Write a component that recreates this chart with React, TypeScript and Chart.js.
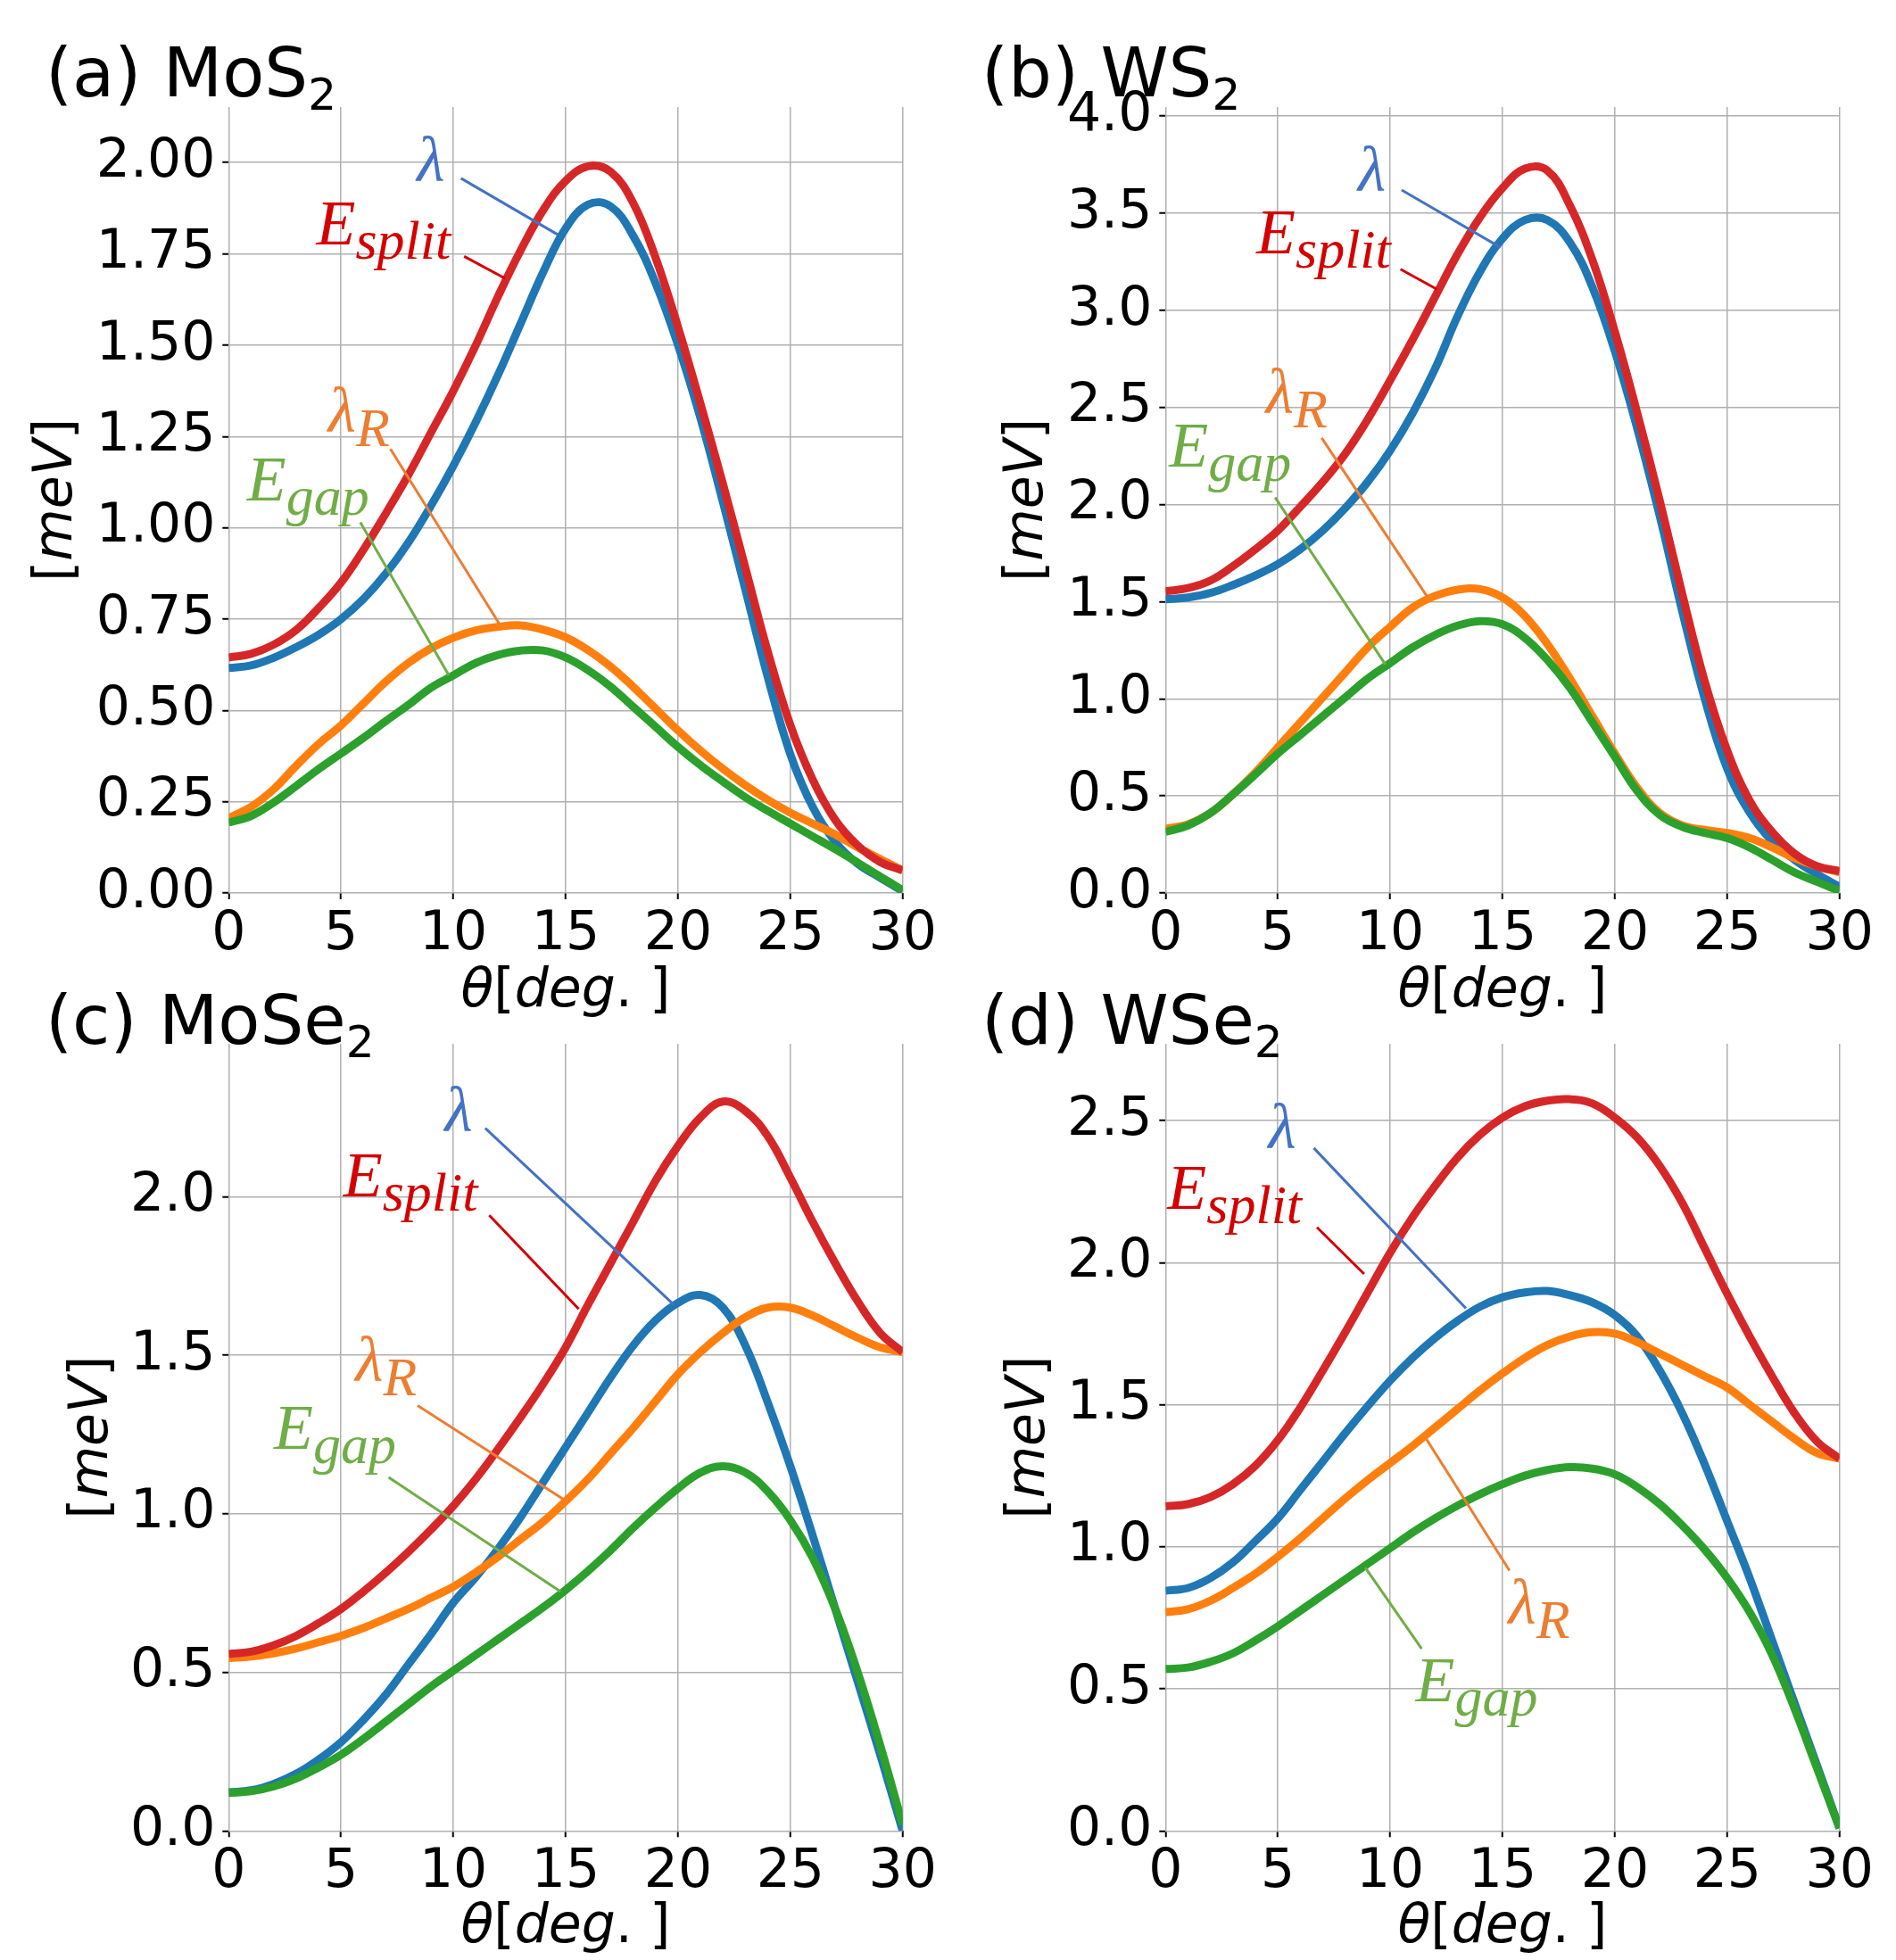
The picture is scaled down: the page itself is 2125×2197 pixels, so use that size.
import React, { useEffect, useRef } from "react";
import { Chart, registerables } from "chart.js";
Chart.register(...registerables);

const W = 2125;
const H = 2197;

// twist angle (deg)
const THETA = [0, 1, 2, 3, 4, 5, 6, 7, 8, 9, 10, 11, 12, 13, 14, 15, 16, 17, 18, 19, 20, 21, 22, 23, 24, 25, 26, 27, 28, 29, 30];
const X_TICKS = [0, 5, 10, 15, 20, 25, 30];

// (a) MoS2
const MOS2_ESPLIT = [0.645, 0.655, 0.68, 0.72, 0.78, 0.85, 0.94, 1.04, 1.145, 1.26, 1.375, 1.5, 1.635, 1.76, 1.87, 1.95, 1.99, 1.975, 1.89, 1.74, 1.55, 1.34, 1.12, 0.89, 0.66, 0.46, 0.31, 0.2, 0.13, 0.085, 0.062];
const MOS2_LAMBDA = [0.616, 0.623, 0.644, 0.673, 0.707, 0.75, 0.805, 0.875, 0.96, 1.06, 1.17, 1.29, 1.42, 1.56, 1.7, 1.82, 1.885, 1.88, 1.8, 1.67, 1.5, 1.3, 1.07, 0.83, 0.59, 0.38, 0.235, 0.14, 0.08, 0.042, 0.005];
const MOS2_LAMBDA_R = [0.205, 0.236, 0.284, 0.348, 0.408, 0.459, 0.519, 0.579, 0.63, 0.67, 0.699, 0.719, 0.729, 0.733, 0.721, 0.7, 0.665, 0.62, 0.565, 0.505, 0.445, 0.39, 0.34, 0.295, 0.255, 0.22, 0.19, 0.16, 0.125, 0.093, 0.062];
const MOS2_EGAP = [0.193, 0.211, 0.248, 0.293, 0.339, 0.382, 0.425, 0.471, 0.515, 0.562, 0.596, 0.63, 0.652, 0.664, 0.664, 0.645, 0.61, 0.565, 0.51, 0.455, 0.4, 0.35, 0.305, 0.262, 0.225, 0.19, 0.155, 0.12, 0.083, 0.045, 0.008];
const MOS2_Y_TICKS = [0, 0.25, 0.5, 0.75, 1.0, 1.25, 1.5, 1.75, 2.0];

// (b) WS2
const WS2_ESPLIT = [1.554, 1.57, 1.609, 1.683, 1.77, 1.866, 1.989, 2.117, 2.262, 2.439, 2.64, 2.85, 3.07, 3.29, 3.48, 3.63, 3.73, 3.72, 3.54, 3.26, 2.89, 2.47, 2.02, 1.54, 1.09, 0.734, 0.476, 0.315, 0.203, 0.138, 0.113];
const WS2_LAMBDA = [1.512, 1.522, 1.545, 1.586, 1.635, 1.693, 1.77, 1.866, 1.982, 2.117, 2.278, 2.471, 2.7, 2.97, 3.2, 3.37, 3.465, 3.465, 3.35, 3.12, 2.79, 2.39, 1.94, 1.45, 1.0, 0.64, 0.415, 0.267, 0.171, 0.097, 0.032];
const WS2_LAMBDA_R = [0.331, 0.354, 0.412, 0.508, 0.621, 0.75, 0.879, 1.007, 1.136, 1.265, 1.371, 1.47, 1.53, 1.562, 1.565, 1.522, 1.426, 1.281, 1.104, 0.911, 0.718, 0.541, 0.412, 0.348, 0.325, 0.309, 0.283, 0.235, 0.18, 0.138, 0.106];
const WS2_EGAP = [0.315, 0.348, 0.412, 0.508, 0.611, 0.718, 0.814, 0.911, 1.007, 1.104, 1.184, 1.265, 1.329, 1.377, 1.4, 1.384, 1.313, 1.2, 1.056, 0.879, 0.702, 0.525, 0.402, 0.341, 0.309, 0.283, 0.235, 0.171, 0.106, 0.058, 0.01];
const WS2_Y_TICKS = [0, 0.5, 1.0, 1.5, 2.0, 2.5, 3.0, 3.5, 4.0];

// (c) MoSe2
const MOSE2_ESPLIT = [0.558, 0.565, 0.585, 0.615, 0.655, 0.7, 0.755, 0.815, 0.88, 0.95, 1.025, 1.11, 1.205, 1.305, 1.41, 1.525, 1.66, 1.79, 1.92, 2.05, 2.16, 2.25, 2.3, 2.27, 2.19, 2.06, 1.92, 1.79, 1.67, 1.57, 1.51];
const MOSE2_LAMBDA = [0.122, 0.128, 0.148, 0.18, 0.225, 0.28, 0.35, 0.43, 0.525, 0.62, 0.72, 0.8, 0.89, 0.99, 1.1, 1.21, 1.32, 1.43, 1.53, 1.61, 1.665, 1.69, 1.65, 1.53, 1.35, 1.15, 0.93, 0.7, 0.47, 0.24, 0.0];
const MOSE2_LAMBDA_R = [0.545, 0.55, 0.56, 0.575, 0.595, 0.615, 0.64, 0.67, 0.7, 0.735, 0.77, 0.815, 0.865, 0.92, 0.975, 1.04, 1.11, 1.19, 1.27, 1.355, 1.44, 1.51, 1.57, 1.62, 1.65, 1.65, 1.625, 1.59, 1.555, 1.525, 1.51];
const MOSE2_EGAP = [0.12, 0.125, 0.14, 0.165, 0.2, 0.24, 0.29, 0.345, 0.4, 0.455, 0.505, 0.555, 0.605, 0.655, 0.705, 0.76, 0.82, 0.885, 0.955, 1.02, 1.08, 1.13, 1.15, 1.13, 1.07, 0.98, 0.86, 0.7, 0.5, 0.27, 0.02];
const MOSE2_Y_TICKS = [0, 0.5, 1.0, 1.5, 2.0];

// (d) WSe2
const WSE2_ESPLIT = [1.142, 1.15, 1.175, 1.22, 1.285, 1.375, 1.49, 1.62, 1.755, 1.895, 2.035, 2.16, 2.27, 2.37, 2.45, 2.51, 2.55, 2.57, 2.575, 2.56, 2.51, 2.44, 2.34, 2.21, 2.05, 1.89, 1.74, 1.6, 1.47, 1.37, 1.31];
const WSE2_LAMBDA = [0.845, 0.855, 0.89, 0.945, 1.02, 1.1, 1.2, 1.3, 1.4, 1.495, 1.585, 1.665, 1.735, 1.795, 1.845, 1.878, 1.895, 1.9, 1.885, 1.86, 1.815, 1.74, 1.62, 1.47, 1.29, 1.09, 0.89, 0.67, 0.45, 0.23, 0.01];
const WSE2_LAMBDA_R = [0.77, 0.78, 0.81, 0.855, 0.905, 0.965, 1.03, 1.1, 1.17, 1.235, 1.295, 1.355, 1.42, 1.485, 1.55, 1.61, 1.665, 1.71, 1.74, 1.755, 1.75, 1.72, 1.68, 1.64, 1.6, 1.56, 1.5, 1.44, 1.38, 1.33, 1.31];
const WSE2_EGAP = [0.57, 0.575, 0.595, 0.625, 0.67, 0.72, 0.775, 0.83, 0.885, 0.94, 0.995, 1.05, 1.1, 1.145, 1.185, 1.22, 1.25, 1.27, 1.28, 1.275, 1.255, 1.21, 1.15, 1.075, 0.99, 0.89, 0.77, 0.62, 0.43, 0.22, 0.01];
const WSE2_Y_TICKS = [0, 0.5, 1.0, 1.5, 2.0, 2.5];

const C_BLUE = "#1f77b4";
const C_ORANGE = "#ff7f0e";
const C_GREEN = "#2ca02c";
const C_RED = "#d62728";
const A_BLUE = "#4472c4";
const A_ORANGE = "#ed7d31";
const A_GREEN = "#70ad47";
const A_RED = "#d40000";

type Seg = { t: string; font: string; dy?: number };
type Ann = { kind: "lambda" | "esplit" | "lambdaR" | "egap"; tx: number; ty: number; x1: number; y1: number; x2: number; y2: number };

type Panel = {
  name: string;
  sub: string;
  esplit: number[];
  lambda: number[];
  lambdaR: number[];
  egap: number[];
  yMax: number;
  yTicks: number[];
  dec: number;
  area: { left: number; right: number; top: number; bottom: number };
  titleX: number;
  titleY: number;
  yTitleX: number;
  xTitleY: number;
  anns: Ann[];
};

const PANELS: Panel[] = [
  {
    name: "(a) MoS", sub: "2",
    esplit: MOS2_ESPLIT, lambda: MOS2_LAMBDA, lambdaR: MOS2_LAMBDA_R, egap: MOS2_EGAP,
    yMax: 2.152, yTicks: MOS2_Y_TICKS, dec: 2,
    area: { left: 256.3, right: 1011.7, top: 120, bottom: 1001 },
    titleX: 51, titleY: 108, yTitleX: 80, xTitleY: 1128,
    anns: [
      { kind: "lambda", tx: 8.38, ty: 1.949, x1: 10.34, y1: 1.957, x2: 14.64, y2: 1.803 },
      { kind: "esplit", tx: 3.9, ty: 1.777, x1: 10.48, y1: 1.743, x2: 12.3, y2: 1.683 },
      { kind: "lambdaR", tx: 4.43, ty: 1.264, x1: 7.2, y1: 1.216, x2: 12.09, y2: 0.733 },
      { kind: "egap", tx: 0.81, ty: 1.075, x1: 5.86, y1: 1.015, x2: 9.8, y2: 0.596 },
    ],
  },
  {
    name: "(b) WS", sub: "2",
    esplit: WS2_ESPLIT, lambda: WS2_LAMBDA, lambdaR: WS2_LAMBDA_R, egap: WS2_EGAP,
    yMax: 4.047, yTicks: WS2_Y_TICKS, dec: 1,
    area: { left: 1306.3, right: 2061.7, top: 120, bottom: 1001 },
    titleX: 1100, titleY: 108, yTitleX: 1168, xTitleY: 1128,
    anns: [
      { kind: "lambda", tx: 8.57, ty: 3.614, x1: 10.51, y1: 3.62, x2: 14.91, y2: 3.324 },
      { kind: "esplit", tx: 4.04, ty: 3.292, x1: 10.46, y1: 3.212, x2: 12.08, y2: 3.109 },
      { kind: "lambdaR", tx: 4.47, ty: 2.471, x1: 6.95, y1: 2.343, x2: 11.67, y2: 1.522 },
      { kind: "egap", tx: 0.16, ty: 2.198, x1: 4.88, y1: 2.037, x2: 9.78, y2: 1.178 },
    ],
  },
  {
    name: "(c) MoSe", sub: "2",
    esplit: MOSE2_ESPLIT, lambda: MOSE2_LAMBDA, lambdaR: MOSE2_LAMBDA_R, egap: MOSE2_EGAP,
    yMax: 2.482, yTicks: MOSE2_Y_TICKS, dec: 1,
    area: { left: 256.3, right: 1011.7, top: 1170, bottom: 2052.3 },
    titleX: 51, titleY: 1170, yTitleX: 120, xTitleY: 2177,
    anns: [
      { kind: "lambda", tx: 9.62, ty: 2.206, x1: 11.42, y1: 2.216, x2: 19.8, y2: 1.66 },
      { kind: "esplit", tx: 5.1, ty: 2.0, x1: 11.6, y1: 1.941, x2: 15.58, y2: 1.646 },
      { kind: "lambdaR", tx: 5.64, ty: 1.42, x1: 8.41, y1: 1.341, x2: 14.99, y2: 1.042 },
      { kind: "egap", tx: 2.01, ty: 1.204, x1: 7.12, y1: 1.115, x2: 14.77, y2: 0.755 },
    ],
  },
  {
    name: "(d) WSe", sub: "2",
    esplit: WSE2_ESPLIT, lambda: WSE2_LAMBDA, lambdaR: WSE2_LAMBDA_R, egap: WSE2_EGAP,
    yMax: 2.77, yTicks: WSE2_Y_TICKS, dec: 1,
    area: { left: 1306.3, right: 2061.7, top: 1170, bottom: 2052.3 },
    titleX: 1100, titleY: 1170, yTitleX: 1170, xTitleY: 2177,
    anns: [
      { kind: "lambda", tx: 4.58, ty: 2.403, x1: 6.6, y1: 2.403, x2: 13.37, y2: 1.839 },
      { kind: "esplit", tx: 0.08, ty: 2.19, x1: 6.74, y1: 2.124, x2: 8.84, y2: 1.96 },
      { kind: "lambdaR", tx: 15.26, ty: 0.729, x1: 15.31, y1: 0.916, x2: 11.54, y2: 1.388 },
      { kind: "egap", tx: 11.13, ty: 0.455, x1: 11.4, y1: 0.641, x2: 8.89, y2: 0.927 },
    ],
  },
];

const SANS = "'DejaVu Sans'";
const SERIF = "'Liberation Serif'";
const F_LAB = `60px ${SANS}`;
const F_LAB_I = `oblique 60px ${SANS}`;
const F_TITLE = `77px ${SANS}`;
const F_TITLE_SUB = `50px ${SANS}`;
const F_MATH = `italic 72px ${SERIF}`;
const F_MATH_SUB = `italic 62px ${SERIF}`;

function drawSegs(ctx: CanvasRenderingContext2D, segs: Seg[], x: number, y: number, align: "left" | "center") {
  let total = 0;
  const widths = segs.map((s) => {
    ctx.font = s.font;
    const w = ctx.measureText(s.t).width;
    total += w;
    return w;
  });
  let cx = align === "center" ? x - total / 2 : x;
  ctx.textAlign = "left";
  ctx.textBaseline = "alphabetic";
  segs.forEach((s, i) => {
    ctx.font = s.font;
    ctx.fillText(s.t, cx, y + (s.dy || 0));
    cx += widths[i];
  });
}

const ANN_STYLE: Record<string, { color: string; segs: Seg[] }> = {
  lambda: { color: A_BLUE, segs: [{ t: "λ", font: F_MATH }] },
  esplit: { color: A_RED, segs: [{ t: "E", font: F_MATH }, { t: "split", font: F_MATH_SUB, dy: 16 }] },
  lambdaR: { color: A_ORANGE, segs: [{ t: "λ", font: F_MATH }, { t: "R", font: F_MATH_SUB, dy: 16 }] },
  egap: { color: A_GREEN, segs: [{ t: "E", font: F_MATH }, { t: "gap", font: F_MATH_SUB, dy: 16 }] },
};

function makeDecor(p: Panel) {
  return {
    id: "decor",
    afterDraw(chart: any) {
      const ctx: CanvasRenderingContext2D = chart.ctx;
      const ca = chart.chartArea;
      const xs = chart.scales.x;
      const ys = chart.scales.y;
      ctx.save();
      ctx.fillStyle = "#000";
      drawSegs(ctx, [{ t: p.name, font: F_TITLE }, { t: p.sub, font: F_TITLE_SUB, dy: 15 }], p.titleX, p.titleY, "left");
      drawSegs(
        ctx,
        [
          { t: "θ", font: F_LAB_I },
          { t: "[", font: F_LAB },
          { t: "deg", font: F_LAB_I },
          { t: ". ", font: F_LAB },
          { t: "]", font: F_LAB },
        ],
        (ca.left + ca.right) / 2,
        p.xTitleY,
        "center"
      );
      ctx.save();
      ctx.translate(p.yTitleX, (ca.top + ca.bottom) / 2);
      ctx.rotate(-Math.PI / 2);
      drawSegs(ctx, [{ t: "[", font: F_LAB }, { t: "meV", font: F_LAB_I }, { t: "]", font: F_LAB }], 0, 0, "center");
      ctx.restore();
      p.anns.forEach((a) => {
        const st = ANN_STYLE[a.kind];
        ctx.strokeStyle = st.color;
        ctx.lineWidth = 3;
        ctx.beginPath();
        ctx.moveTo(xs.getPixelForValue(a.x1), ys.getPixelForValue(a.y1));
        ctx.lineTo(xs.getPixelForValue(a.x2), ys.getPixelForValue(a.y2));
        ctx.stroke();
        ctx.fillStyle = st.color;
        drawSegs(ctx, st.segs, xs.getPixelForValue(a.tx), ys.getPixelForValue(a.ty), "left");
      });
      ctx.restore();
    },
  };
}

function ds(vals: number[], color: string) {
  return {
    data: THETA.map((t, i) => ({ x: t, y: vals[i] })),
    borderColor: color,
    backgroundColor: color,
    borderWidth: 9,
    pointRadius: 0,
    tension: 0.4,
    cubicInterpolationMode: "default",
    fill: false,
  };
}

function PanelChart({ p }: { p: Panel }) {
  const ref = useRef<HTMLCanvasElement | null>(null);
  useEffect(() => {
    if (!ref.current) return;
    const YW = 200;
    const XH = 100;
    const gridCommon = {
      color: "#b0b0b0",
      lineWidth: 1.5,
      tickColor: "#000",
      tickWidth: 2,
      tickLength: 7,
      drawTicks: true,
    };
    const chart = new Chart(ref.current, {
      type: "line",
      data: {
        datasets: [ds(p.esplit, C_RED), ds(p.egap, C_GREEN), ds(p.lambdaR, C_ORANGE), ds(p.lambda, C_BLUE)] as any,
      },
      options: {
        animation: false,
        responsive: false,
        maintainAspectRatio: false,
        events: [],
        layout: {
          padding: {
            left: p.area.left - YW,
            right: W - p.area.right,
            top: p.area.top,
            bottom: H - p.area.bottom - XH,
          },
        },
        plugins: { legend: { display: false }, tooltip: { enabled: false }, title: { display: false } },
        scales: {
          x: {
            type: "linear",
            position: "bottom",
            min: 0,
            max: 30,
            border: { display: false },
            grid: gridCommon,
            ticks: {
              font: { family: "DejaVu Sans", size: 60 },
              color: "#000",
              padding: 4,
              autoSkip: false,
              maxRotation: 0,
              minRotation: 0,
              callback: (v: any) => String(v),
            },
            afterBuildTicks: (s: any) => {
              s.ticks = X_TICKS.map((v) => ({ value: v }));
            },
            afterFit: (s: any) => {
              s.height = XH;
            },
          },
          y: {
            type: "linear",
            position: "left",
            min: 0,
            max: p.yMax,
            border: { display: false },
            grid: gridCommon,
            ticks: {
              font: { family: "DejaVu Sans", size: 60 },
              color: "#000",
              padding: 8,
              autoSkip: false,
              callback: (v: any) => Number(v).toFixed(p.dec),
            },
            afterBuildTicks: (s: any) => {
              s.ticks = p.yTicks.map((v) => ({ value: v }));
            },
            afterFit: (s: any) => {
              s.width = YW;
            },
          },
        },
      } as any,
      plugins: [makeDecor(p)],
    });
    return () => chart.destroy();
  }, [p]);
  return <canvas ref={ref} width={W} height={H} style={{ position: "absolute", left: 0, top: 0, width: W, height: H }} />;
}

export default function App() {
  useEffect(() => {
    document.body.style.margin = "0";
    document.body.style.background = "#fff";
  }, []);
  return (
    <div style={{ position: "absolute", left: 0, top: 0, width: W, height: H, background: "#fff", overflow: "hidden" }}>
      {PANELS.map((p, i) => (
        <PanelChart key={i} p={p} />
      ))}
    </div>
  );
}
